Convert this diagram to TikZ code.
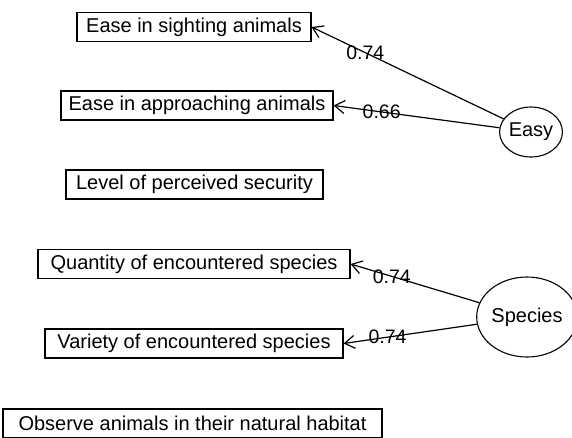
\documentclass[tikz,border=0pt]{standalone}
\usepackage{fontspec}
\setmainfont{Liberation Sans}
\usetikzlibrary{arrows.meta,shapes.geometric}
\begin{document}
\begin{tikzpicture}[x=1pt,y=-1pt]
  \tikzstyle{item}=[rectangle,draw,line width=1.2pt,inner xsep=6pt,inner ysep=0pt,minimum height=29pt,font=\fontsize{20}{23}\selectfont]
  \tikzstyle{factor}=[ellipse,draw,line width=1.1pt,inner sep=0pt,font=\fontsize{20}{23}\selectfont]
  \tikzstyle{load}=[-{Straight Barb[length=10pt,width=13pt]},line width=1.2pt]
  \tikzstyle{weight}=[inner sep=0pt,font=\fontsize{19.5}{21}\selectfont]
  \useasboundingbox (0,0) rectangle (572,437);

  \node[item,minimum width=234pt] (sighting) at (194,27) {Ease in sighting animals};
  \node[item,minimum width=272pt] (approaching) at (197,105.5) {Ease in approaching animals};
  \node[item,minimum width=257pt] (security) at (194.5,184.5) {Level of perceived security};
  \node[item,minimum width=312pt] (quantity) at (194,264) {Quantity of encountered species};
  \node[item,minimum width=298pt] (variety) at (194,343.5) {Variety of encountered species};
  \node[item,minimum width=379pt] (habitat) at (192.5,423.5) {Observe animals in their natural habitat};

  \node[factor,minimum width=61pt,minimum height=50pt] (easy) at (531,132) {Easy};
  \node[factor,minimum width=88pt,minimum height=80pt] (species) at (527,317) {Species};

  \draw[load] (easy) -- (sighting.east) node[weight,pos=0.72] {0.74};
  \draw[load] (easy) -- (approaching.east) node[weight,pos=0.71] {0.66};
  \draw[load] (species) -- (quantity.east) node[weight,pos=0.68] {0.74};
  \draw[load] (species) -- (variety.east) node[weight,pos=0.67] {0.74};
\end{tikzpicture}
\end{document}
